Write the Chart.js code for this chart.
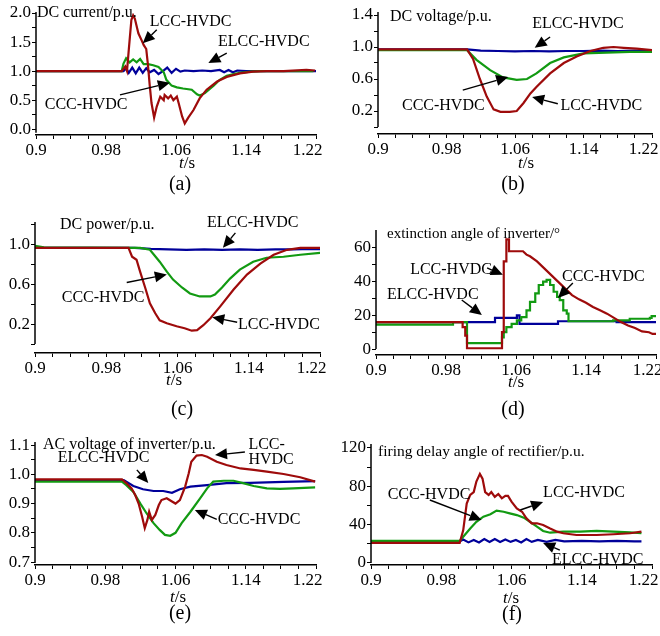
<!DOCTYPE html>
<html>
<head>
<meta charset="utf-8">
<script src="https://cdn.jsdelivr.net/npm/chart.js@4.4.0/dist/chart.umd.min.js"></script>
<style>
  body { margin: 0; background: #fff; width: 660px; height: 636px; overflow: hidden; position: relative;
         font-family: 'Liberation Serif', 'Times New Roman', serif; color: #000; }
  canvas { position: absolute; }
  .lbl { position: absolute; transform: translate(-50%, -50%); white-space: nowrap; }
  .cap { font-size: 20px; }
  .ts { font-size: 17px; }
</style>
</head>
<body>
<canvas id="pa"></canvas>
<canvas id="pb"></canvas>
<canvas id="pc"></canvas>
<canvas id="pd"></canvas>
<canvas id="pe"></canvas>
<canvas id="pf"></canvas>

<div class="lbl ts" style="left:187px;top:163px"><i>t</i>/s</div>
<div class="lbl cap" style="left:180px;top:183px">(a)</div>
<div class="lbl ts" style="left:526px;top:163px"><i>t</i>/s</div>
<div class="lbl cap" style="left:513px;top:183px">(b)</div>
<div class="lbl ts" style="left:174px;top:380px"><i>t</i>/s</div>
<div class="lbl cap" style="left:182px;top:408px">(c)</div>
<div class="lbl ts" style="left:516px;top:382px"><i>t</i>/s</div>
<div class="lbl cap" style="left:513px;top:408px">(d)</div>
<div class="lbl ts" style="left:178px;top:597px"><i>t</i>/s</div>
<div class="lbl cap" style="left:180px;top:612px">(e)</div>
<div class="lbl ts" style="left:511px;top:598px"><i>t</i>/s</div>
<div class="lbl cap" style="left:512px;top:613px">(f)</div>

<script>
// shared time axis
const xMajor = [0.9, 0.98, 1.06, 1.14, 1.22];
const xLabels = ['0.9', '0.98', '1.06', '1.14', '1.22'];
const xMinor = [0.92, 0.94, 0.96, 1.0, 1.02, 1.04, 1.08, 1.1, 1.12, 1.16, 1.18, 1.2];

// (a) DC current
const aYMajor = [0, 0.5, 1, 1.5, 2];
const aYLabels = ['0.0', '0.5', '1.0', '1.5', '2.0'];
const aYMinor = [0.25, 0.75, 1.25, 1.75];
const aLccT = [0.9, 0.998, 1.002, 1.004, 1.006, 1.009, 1.011, 1.013, 1.017, 1.021, 1.023, 1.026, 1.028, 1.030, 1.032, 1.035, 1.038, 1.042, 1.046, 1.047, 1.051, 1.054, 1.057, 1.061, 1.063, 1.067, 1.070, 1.074, 1.080, 1.087, 1.095, 1.107, 1.118, 1.133, 1.148, 1.164, 1.183, 1.209, 1.219];
const aLccV = [1.0, 1.0, 1.08, 1.0, 1.36, 1.88, 1.96, 1.9, 1.65, 1.52, 1.45, 1.38, 1.1, 0.75, 0.45, 0.2, 0.39, 0.56, 0.5, 0.59, 0.53, 0.58, 0.5, 0.56, 0.45, 0.22, 0.1, 0.2, 0.33, 0.53, 0.68, 0.82, 0.9, 0.96, 0.99, 1.0, 1.0, 1.02, 1.01];
const aCccT = [0.9, 0.998, 1.000, 1.003, 1.007, 1.011, 1.015, 1.019, 1.023, 1.028, 1.034, 1.040, 1.046, 1.049, 1.055, 1.061, 1.068, 1.078, 1.084, 1.087, 1.093, 1.103, 1.110, 1.118, 1.126, 1.133, 1.145, 1.156, 1.164, 1.19, 1.217];
const aCccV = [1.0, 1.0, 1.13, 1.22, 1.15, 1.2, 1.15, 1.21, 1.12, 1.12, 1.1, 1.07, 0.98, 0.85, 0.75, 0.72, 0.7, 0.68, 0.6, 0.58, 0.62, 0.75, 0.85, 0.92, 0.95, 0.97, 0.99, 1.0, 1.0, 1.0, 1.0];
const aElccT = [0.9, 1.0, 1.003, 1.006, 1.010, 1.014, 1.018, 1.022, 1.026, 1.030, 1.035, 1.040, 1.045, 1.050, 1.055, 1.060, 1.065, 1.070, 1.080, 1.090, 1.100, 1.110, 1.115, 1.120, 1.125, 1.130, 1.140, 1.150, 1.22];
const aElccV = [1.0, 1.0, 1.05, 0.97, 1.06, 0.96, 1.06, 0.97, 1.05, 0.98, 1.02, 0.95, 1.0, 1.06, 0.97, 1.04, 0.99, 1.01, 1.0, 1.01, 1.0, 1.02, 0.98, 1.02, 0.98, 1.01, 1.0, 1.0, 1.0];

// (b) DC voltage
const bYMajor = [0.2, 0.6, 1.0, 1.4];
const bYLabels = ['0.2', '0.6', '1.0', '1.4'];
const bYMinor = [0, 0.4, 0.8, 1.2];
const bLccT = [0.9, 1.004, 1.011, 1.019, 1.027, 1.035, 1.043, 1.054, 1.062, 1.070, 1.078, 1.085, 1.101, 1.117, 1.132, 1.148, 1.163, 1.175, 1.187, 1.202, 1.22];
const bLccV = [0.97, 0.97, 0.85, 0.6, 0.38, 0.22, 0.19, 0.19, 0.2, 0.3, 0.42, 0.5, 0.67, 0.8, 0.88, 0.95, 0.99, 1.0, 0.99, 0.98, 0.96];
const bCccT = [0.9, 1.004, 1.015, 1.031, 1.046, 1.062, 1.074, 1.085, 1.101, 1.117, 1.140, 1.167, 1.194, 1.22];
const bCccV = [0.96, 0.96, 0.84, 0.71, 0.62, 0.59, 0.6, 0.67, 0.8, 0.87, 0.92, 0.93, 0.94, 0.94];
const bElccT = [0.9, 1.004, 1.02, 1.04, 1.06, 1.08, 1.1, 1.12, 1.14, 1.16, 1.18, 1.2, 1.22];
const bElccV = [0.97, 0.97, 0.955, 0.95, 0.945, 0.95, 0.945, 0.95, 0.95, 0.955, 0.95, 0.955, 0.95];

// (c) DC power
const cYMajor = [0.2, 0.6, 1.0];
const cYLabels = ['0.2', '0.6', '1.0'];
const cYMinor = [0, 0.4, 0.8, 1.2];
const cLccT = [0.9, 1.005, 1.009, 1.014, 1.018, 1.024, 1.029, 1.035, 1.040, 1.048, 1.059, 1.068, 1.076, 1.082, 1.089, 1.097, 1.108, 1.123, 1.138, 1.153, 1.168, 1.183, 1.198, 1.222];
const cLccV = [0.97, 0.97, 0.88, 0.85, 0.73, 0.56, 0.41, 0.31, 0.24, 0.21, 0.18, 0.16, 0.135, 0.14, 0.19, 0.26, 0.38, 0.55, 0.7, 0.81, 0.9, 0.95, 0.97, 0.97];
const cCccT = [0.9, 0.91, 1.018, 1.029, 1.040, 1.048, 1.055, 1.065, 1.074, 1.085, 1.097, 1.102, 1.110, 1.119, 1.130, 1.145, 1.160, 1.179, 1.198, 1.222];
const cCccV = [0.99, 0.975, 0.97, 0.95, 0.83, 0.73, 0.65, 0.57, 0.51, 0.48, 0.48, 0.5, 0.57, 0.66, 0.75, 0.83, 0.87, 0.88, 0.9, 0.92];
const cElccT = [0.9, 1.012, 1.03, 1.05, 1.07, 1.09, 1.11, 1.13, 1.15, 1.17, 1.19, 1.21, 1.222];
const cElccV = [0.97, 0.97, 0.96, 0.955, 0.95, 0.955, 0.95, 0.955, 0.95, 0.955, 0.955, 0.96, 0.955];

// (d) extinction angle; red keeps its jumps as repeated times, green and blue are step series
const dYMajor = [0, 20, 40, 60];
const dYLabels = ['0', '20', '40', '60'];
const dYMinor = [10, 30, 50];
const dLccT = [0.9, 0.999, 0.999, 1.002, 1.002, 1.004, 1.004, 1.044, 1.044, 1.046, 1.046, 1.049, 1.049, 1.052, 1.052, 1.068, 1.072, 1.076, 1.084, 1.092, 1.100, 1.108, 1.116, 1.124, 1.132, 1.140, 1.148, 1.156, 1.164, 1.172, 1.180, 1.188, 1.196, 1.204, 1.212, 1.216, 1.22];
const dLccV = [16, 16, 13, 13, 8, 8, 0.5, 0.5, 10, 10, 52, 52, 65, 65, 58, 58, 56, 55, 52, 48, 44, 40, 36, 32, 29.5, 27.5, 25, 23, 21, 18.5, 16, 14, 12.5, 10.5, 10, 9, 9];
const dCccT = [0.9, 0.988, 0.998, 1.004, 1.044, 1.046, 1.049, 1.055, 1.061, 1.066, 1.072, 1.076, 1.082, 1.086, 1.091, 1.095, 1.099, 1.103, 1.107, 1.110, 1.114, 1.118, 1.120, 1.171, 1.19, 1.213, 1.215, 1.22];
const dCccV = [14.5, 16, 16, 3.5, 7, 10, 13, 15, 17, 19, 23, 28, 33, 38, 40, 41, 38, 34, 31, 29, 23, 21, 16.5, 17, 18, 18.5, 19.5, 19.5];
const dElccT = [0.9, 1.036, 1.061, 1.064, 1.108, 1.175, 1.22];
const dElccV = [16, 18.5, 20, 15, 16.5, 16, 16];

// (e) AC voltage of inverter
const eYMajor = [0.7, 0.8, 0.9, 1.0, 1.1];
const eYLabels = ['0.7', '0.8', '0.9', '1.0', '1.1'];
const eYMinor = [0.75, 0.85, 0.95, 1.05];
const eLccT = [0.9, 0.999, 1.004, 1.010, 1.014, 1.018, 1.022, 1.025, 1.028, 1.030, 1.033, 1.037, 1.041, 1.044, 1.050, 1.056, 1.060, 1.065, 1.071, 1.075, 1.078, 1.084, 1.090, 1.096, 1.107, 1.118, 1.134, 1.149, 1.164, 1.183, 1.202, 1.219];
const eLccV = [0.983, 0.983, 0.97, 0.952, 0.93, 0.90, 0.855, 0.816, 0.844, 0.872, 0.844, 0.861, 0.895, 0.912, 0.918, 0.907, 0.90, 0.912, 0.958, 1.003, 1.043, 1.064, 1.066, 1.06, 1.043, 1.032, 1.02, 1.015, 1.009, 1.001, 0.99, 0.975];
const eCccT = [0.9, 0.999, 1.004, 1.012, 1.020, 1.027, 1.035, 1.042, 1.048, 1.054, 1.060, 1.067, 1.077, 1.088, 1.096, 1.103, 1.115, 1.126, 1.137, 1.149, 1.164, 1.179, 1.194, 1.219];
const eCccV = [0.975, 0.975, 0.963, 0.94, 0.90, 0.867, 0.833, 0.81, 0.793, 0.79, 0.80, 0.833, 0.872, 0.918, 0.952, 0.975, 0.978, 0.978, 0.97, 0.96, 0.952, 0.95, 0.952, 0.955];
const eElccT = [0.9, 1.001, 1.012, 1.023, 1.035, 1.046, 1.056, 1.065, 1.077, 1.096, 1.118, 1.145, 1.183, 1.219];
const eElccV = [0.98, 0.98, 0.96, 0.949, 0.943, 0.943, 0.937, 0.949, 0.958, 0.963, 0.97, 0.971, 0.974, 0.977];

// (f) firing delay angle of rectifier
const fYMajor = [0, 40, 80, 120];
const fYLabels = ['0', '40', '80', '120'];
const fYMinor = [20, 60, 100];
const fLccT = [0.9, 1.001, 1.005, 1.009, 1.013, 1.017, 1.020, 1.024, 1.027, 1.030, 1.034, 1.037, 1.041, 1.045, 1.049, 1.053, 1.056, 1.060, 1.066, 1.072, 1.077, 1.083, 1.089, 1.096, 1.104, 1.112, 1.119, 1.134, 1.157, 1.176, 1.195, 1.208];
const fLccV = [21, 21, 34, 62, 71, 74, 85, 93, 88, 74, 71, 74, 69, 72, 67.5, 70, 70, 64, 57, 53.5, 46.6, 41.4, 41.4, 39.6, 36, 32.7, 31, 29.2, 29.2, 30, 31, 32.7];
const fCccT = [0.9, 1.001, 1.005, 1.013, 1.020, 1.028, 1.036, 1.043, 1.051, 1.058, 1.066, 1.074, 1.081, 1.089, 1.096, 1.104, 1.119, 1.138, 1.157, 1.176, 1.195, 1.208];
const fCccV = [23, 23, 27.4, 36, 43, 48.3, 50.8, 54.6, 53.5, 51.8, 50, 47.3, 43, 38, 33.4, 31.6, 32.7, 32.7, 33.4, 32.7, 32, 31];
const fElccT = [0.9, 1.0, 1.005, 1.011, 1.017, 1.023, 1.029, 1.035, 1.041, 1.047, 1.053, 1.059, 1.065, 1.071, 1.077, 1.083, 1.09, 1.1, 1.11, 1.12, 1.14, 1.16, 1.18, 1.2, 1.208];
const fElccV = [22, 22, 24.5, 21.5, 24, 21.5, 25, 22, 25, 22, 24.5, 22, 24, 21.5, 25, 22, 24, 22, 24, 22.5, 23, 22.5, 23, 22.5, 22.5];

const RED = '#9e0b0b';
const GREEN = '#129a12';
const BLUE = '#00009a';

Chart.defaults.font.family = "'Liberation Serif', 'Times New Roman', serif";
Chart.defaults.color = '#000';

const YW = 34;   // fixed y-axis box width
const XH = 30;   // fixed x-axis box height

function near(list, v) {
    return list.findIndex(m => Math.abs(m - v) < 1e-6);
}

function line(t, v, color, stepped) {
    return {
        data: t.map((x, i) => ({ x: x, y: v[i] })),
        borderColor: color,
        borderWidth: 2.2,
        pointRadius: 0,
        tension: 0,
        stepped: stepped || false,
        fill: false
    };
}

// titles, curve labels, arrows and the y axis line, placed in data units
function overlay(p) {
    return {
        id: 'overlay',
        afterDraw(chart) {
            const { ctx, chartArea, scales: { x, y } } = chart;
            ctx.save();
            ctx.strokeStyle = '#000';
            ctx.fillStyle = '#000';
            ctx.lineWidth = 1.5;
            ctx.beginPath();
            ctx.moveTo(chartArea.left, chartArea.top - 1);
            ctx.lineTo(chartArea.left, y.getPixelForValue(p.yEnd));
            ctx.stroke();

            ctx.textAlign = 'left';
            ctx.textBaseline = 'middle';
            p.texts.forEach(n => {
                ctx.font = (n.size || 16) + "px 'Liberation Serif', serif";
                ctx.fillText(n.text, x.getPixelForValue(n.at[0]), y.getPixelForValue(n.at[1]));
            });

            ctx.lineWidth = 1.4;
            p.arrows.forEach(a => {
                const x1 = x.getPixelForValue(a.from[0]), y1 = y.getPixelForValue(a.from[1]);
                const x2 = x.getPixelForValue(a.to[0]), y2 = y.getPixelForValue(a.to[1]);
                const ang = Math.atan2(y2 - y1, x2 - x1);
                const c = Math.cos(ang), s = Math.sin(ang);
                const hl = 12, hw = 5.5;
                ctx.beginPath();
                ctx.moveTo(x1, y1);
                ctx.lineTo(x2 - hl * c, y2 - hl * s);
                ctx.stroke();
                ctx.beginPath();
                ctx.moveTo(x2, y2);
                ctx.lineTo(x2 - hl * c + hw * s, y2 - hl * s - hw * c);
                ctx.lineTo(x2 - hl * c - hw * s, y2 - hl * s + hw * c);
                ctx.closePath();
                ctx.fill();
            });
            ctx.restore();
        }
    };
}

function makePanel(p) {
    const canvas = document.getElementById(p.id);
    const [cx, cy, w, h] = p.box;
    const [L, T, R, B] = p.area;
    canvas.width = w;
    canvas.height = h;
    canvas.style.left = cx + 'px';
    canvas.style.top = cy + 'px';
    canvas.style.width = w + 'px';
    canvas.style.height = h + 'px';

    const xVals = xMajor.concat(xMinor).sort((m, n) => m - n);
    const yVals = p.yMajor.concat(p.yMinor).sort((m, n) => m - n);

    return new Chart(canvas, {
        type: 'line',
        data: {
            datasets: p.series.map(s => line(s[0], s[1], s[2], s[3]))
        },
        options: {
            responsive: false,
            animation: false,
            devicePixelRatio: 1,
            layout: {
                autoPadding: false,
                padding: { left: L - cx - YW, top: T - cy, right: cx + w - R, bottom: cy + h - B - XH }
            },
            plugins: { legend: { display: false }, tooltip: { enabled: false } },
            scales: {
                x: {
                    type: 'linear',
                    bounds: 'data',
                    min: 0.9,
                    max: 1.22,
                    afterBuildTicks: sc => { sc.ticks = xVals.map(v => ({ value: v })); },
                    afterFit: sc => { sc.height = XH; sc.paddingLeft = 0; sc.paddingRight = 0; },
                    grid: { drawOnChartArea: false, drawTicks: true, tickLength: 4, color: '#000', lineWidth: 1 },
                    border: { display: true, color: '#000', width: 1.5 },
                    ticks: {
                        autoSkip: false,
                        maxRotation: 0,
                        padding: 1,
                        font: { size: 17 },
                        callback: v => {
                            const i = near(xMajor, v);
                            if (i < 0) return '';
                            return i === xMajor.length - 1 ? xLabels[i] + '    ' : xLabels[i];
                        }
                    }
                },
                y: {
                    type: 'linear',
                    bounds: 'data',
                    min: p.yRange[0],
                    max: p.yRange[1],
                    afterBuildTicks: sc => { sc.ticks = yVals.map(v => ({ value: v })); },
                    afterFit: sc => { sc.width = YW; sc.paddingTop = 0; sc.paddingBottom = 0; },
                    grid: { drawOnChartArea: false, drawTicks: true, tickLength: 4, color: '#000', lineWidth: 1 },
                    border: { display: false },
                    ticks: {
                        autoSkip: false,
                        padding: 1,
                        font: { size: 17 },
                        callback: v => {
                            const i = near(p.yMajor, v);
                            return i < 0 ? '' : p.yLabels[i];
                        }
                    }
                }
            }
        },
        plugins: [overlay(p)]
    });
}

const panels = [
    {
        id: 'pa', box: [0, 0, 330, 175], area: [36, 13, 316, 135],
        yRange: [-0.1, 2.0], yEnd: -0.06, yMajor: aYMajor, yLabels: aYLabels, yMinor: aYMinor,
        series: [[aLccT, aLccV, RED], [aCccT, aCccV, GREEN], [aElccT, aElccV, BLUE]],
        texts: [
            { text: 'DC current/p.u.', at: [0.901, 2.0] },
            { text: 'LCC-HVDC', at: [1.030, 1.85] },
            { text: 'ELCC-HVDC', at: [1.108, 1.50] },
            { text: 'CCC-HVDC', at: [0.910, 0.42] }
        ],
        arrows: [
            { from: [1.038, 1.71], to: [1.022, 1.48] },
            { from: [1.118, 1.31], to: [1.097, 1.14] },
            { from: [0.996, 0.59], to: [1.053, 0.80] }
        ]
    },
    {
        id: 'pb', box: [330, 0, 330, 175], area: [378, 13, 652, 134],
        yRange: [-0.0875, 1.425], yEnd: 0, yMajor: bYMajor, yLabels: bYLabels, yMinor: bYMinor,
        series: [[bLccT, bLccV, RED], [bCccT, bCccV, GREEN], [bElccT, bElccV, BLUE]],
        texts: [
            { text: 'DC voltage/p.u.', at: [0.914, 1.375] },
            { text: 'ELCC-HVDC', at: [1.080, 1.29] },
            { text: 'CCC-HVDC', at: [0.928, 0.26] },
            { text: 'LCC-HVDC', at: [1.113, 0.26] }
        ],
        arrows: [
            { from: [1.101, 1.125], to: [1.083, 0.99] },
            { from: [0.999, 0.46], to: [1.052, 0.625] },
            { from: [1.110, 0.29], to: [1.080, 0.375] }
        ]
    },
    {
        id: 'pc', box: [0, 200, 330, 190], area: [35, 223, 320, 353],
        yRange: [-0.09, 1.22], yEnd: 0, yMajor: cYMajor, yLabels: cYLabels, yMinor: cYMinor,
        series: [[cLccT, cLccV, RED], [cCccT, cCccV, GREEN], [cElccT, cElccV, BLUE]],
        texts: [
            { text: 'DC power/p.u.', at: [0.928, 1.20] },
            { text: 'ELCC-HVDC', at: [1.093, 1.22] },
            { text: 'CCC-HVDC', at: [0.930, 0.465] },
            { text: 'LCC-HVDC', at: [1.128, 0.19] }
        ],
        arrows: [
            { from: [1.125, 1.12], to: [1.111, 0.97] },
            { from: [1.003, 0.62], to: [1.048, 0.70] },
            { from: [1.127, 0.22], to: [1.099, 0.27] }
        ]
    },
    {
        id: 'pd', box: [330, 200, 330, 190], area: [376, 231, 656, 355],
        yRange: [-3.5, 70], yEnd: 0, yMajor: dYMajor, yLabels: dYLabels, yMinor: dYMinor,
        series: [[dLccT, dLccV, RED], [dCccT, dCccV, GREEN, true], [dElccT, dElccV, BLUE, true]],
        texts: [
            { text: 'extinction angle of inverter/\u00b0', at: [0.9126, 68.3], size: 15 },
            { text: 'LCC-HVDC', at: [0.939, 46.9] },
            { text: 'ELCC-HVDC', at: [0.9126, 32.1] },
            { text: 'CCC-HVDC', at: [1.1126, 42.8] }
        ],
        arrows: [
            { from: [1.027, 48.1], to: [1.045, 44.0] },
            { from: [0.998, 29.1], to: [1.021, 20.2] },
            { from: [1.125, 39.2], to: [1.108, 30.3] }
        ]
    },
    {
        id: 'pe', box: [0, 420, 330, 190], area: [35, 443, 316, 565],
        yRange: [0.69, 1.107], yEnd: 0.697, yMajor: eYMajor, yLabels: eYLabels, yMinor: eYMinor,
        series: [[eLccT, eLccV, RED], [eCccT, eCccV, GREEN], [eElccT, eElccV, BLUE]],
        texts: [
            { text: 'AC voltage of inverter/p.u.', at: [0.909, 1.10] },
            { text: 'ELCC-HVDC', at: [0.926, 1.0556] },
            { text: 'LCC-', at: [1.143, 1.10] },
            { text: 'HVDC', at: [1.143, 1.049] },
            { text: 'CCC-HVDC', at: [1.108, 0.844] }
        ],
        arrows: [
            { from: [1.016, 1.015], to: [1.029, 0.970] },
            { from: [1.139, 1.076], to: [1.105, 1.066] },
            { from: [1.107, 0.846], to: [1.082, 0.878] }
        ]
    },
    {
        id: 'pf', box: [330, 420, 330, 190], area: [371, 445, 652, 565],
        yRange: [-2.1, 123.1], yEnd: 0, yMajor: fYMajor, yLabels: fYLabels, yMinor: fYMinor,
        series: [[fLccT, fLccV, RED], [fCccT, fCccV, GREEN], [fElccT, fElccV, BLUE]],
        texts: [
            { text: 'firing delay angle of rectifier/p.u.', at: [0.908, 115.8], size: 15.5 },
            { text: 'CCC-HVDC', at: [0.919, 70.9] },
            { text: 'LCC-HVDC', at: [1.096, 73.0] },
            { text: 'ELCC-HVDC', at: [1.106, 3.0] }
        ],
        arrows: [
            { from: [0.967, 65.7], to: [1.026, 44.8] },
            { from: [1.070, 55.3], to: [1.096, 63.6] },
            { from: [1.115, 13.5], to: [1.096, 20.8] }
        ]
    }
];

panels.forEach(makePanel);
</script>
</body>
</html>
